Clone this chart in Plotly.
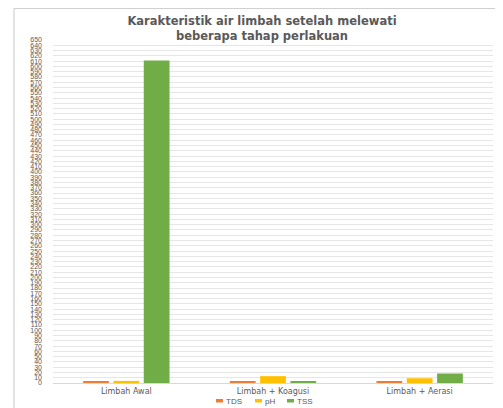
import plotly.graph_objects as go

categories = ["Limbah Awal", "Limbah + Koagusi", "Limbah + Aerasi"]
tds = [2, 3, 3]
ph = [4, 13, 9]
tss = [611, 3, 18]
series_names = ["TDS", "pH", "TSS"]
colors = ["#ED7D31", "#FFC000", "#70AD47"]
tick_vals = list(range(0, 651, 10))

# The page body keeps its default 8px margin, so the figure is laid out
# in page coordinates shifted by that offset.
OFF = 8
W, H = 503 - OFF, 408 - OFF
L, R, T, B = 53 - OFF, 10, 40 - OFF, 25
pw, ph_ = W - L - R, H - T - B


def px(x_page):
    return (x_page - OFF - L) / pw


def py(y_page):
    return (H - B - (y_page - OFF)) / ph_


fig = go.Figure()
for name, vals, c in zip(series_names, [tds, ph, tss], colors):
    fig.add_trace(go.Bar(name=name, x=categories, y=vals,
                         marker=dict(color=c, line=dict(width=0)), showlegend=False))

# compact Excel-style legend
legend_x = [216, 255, 287]
shapes = []
annotations = []
for name, c, lx in zip(series_names, colors, legend_x):
    shapes.append(dict(type="rect", xref="paper", yref="paper",
                       x0=px(lx), x1=px(lx + 7), y0=py(402.5), y1=py(399),
                       fillcolor=c, line=dict(width=0)))
    annotations.append(dict(text=name, xref="paper", yref="paper",
                            x=px(lx + 8), xanchor="left", y=py(401), yanchor="middle",
                            showarrow=False,
                            font=dict(size=8, color="#595959",
                                      family="Liberation Sans Narrow, Liberation Sans, sans-serif")))

# chart-area border (left and top edges visible in the reference)
shapes += [
    dict(type="line", xref="paper", yref="paper",
         x0=px(14), x1=px(14), y0=py(8.5), y1=py(420),
         line=dict(color="#d0d0d0", width=1.2)),
    dict(type="line", xref="paper", yref="paper",
         x0=px(14), x1=px(520), y0=py(8.5), y1=py(8.5),
         line=dict(color="#d0d0d0", width=1.2)),
]

fig.update_layout(
    width=W, height=H,
    margin=dict(l=L, r=R, t=T, b=B, pad=0, autoexpand=False),
    paper_bgcolor="white", plot_bgcolor="white",
    barmode="group", bargap=0.38, bargroupgap=0.15,
    font=dict(family="Liberation Sans Narrow, Liberation Sans, sans-serif", color="#595959"),
    title=dict(
        text="<b>Karakteristik air limbah setelah melewati<br>beberapa tahap perlakuan</b>",
        x=(262 - OFF) / W, xanchor="center", y=1 - (25 - OFF) / H, yanchor="middle",
        font=dict(size=11.5, color="#595959", family="DejaVu Sans, sans-serif"),
    ),
    showlegend=False,
    xaxis=dict(showgrid=False, showline=True, linecolor="#d9d9d9", linewidth=1,
               ticks="", automargin=False,
               tickfont=dict(size=8, family="DejaVu Sans, sans-serif", color="#595959")),
    yaxis=dict(range=[0, 650], tickvals=tick_vals, showgrid=True, gridcolor="#e6e6e6",
               gridwidth=1, zeroline=False, showline=False, ticks="", automargin=False,
               tickfont=dict(size=7, color="#595959"), ticklabelstandoff=10),
    shapes=shapes,
    annotations=annotations,
)

fig.write_html("out.html", config={"displayModeBar": False})
